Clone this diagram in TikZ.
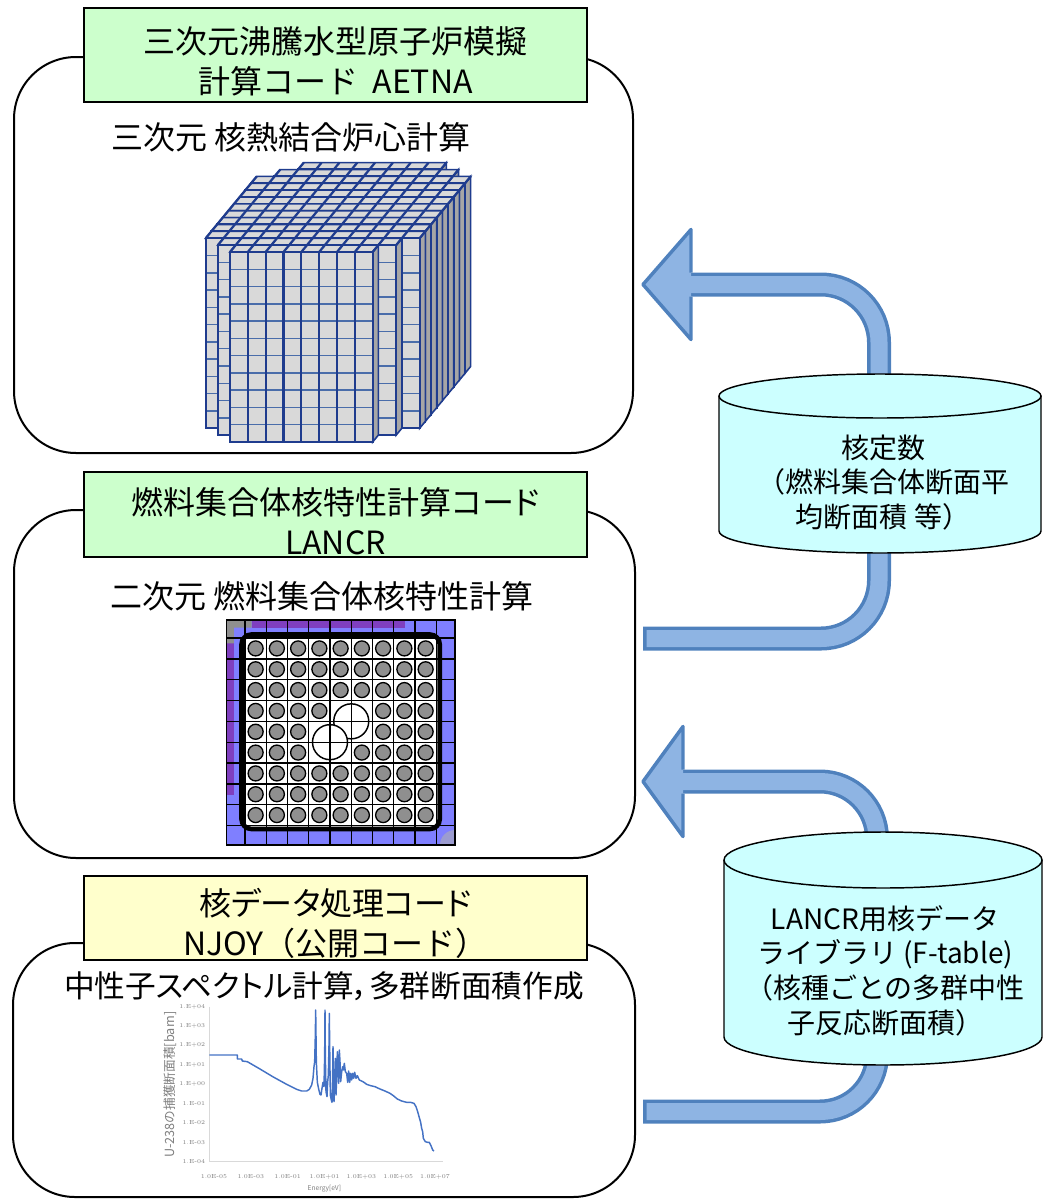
\documentclass[tikz,border=0pt]{standalone}
\usepackage{fontspec}
\newfontfamily\jpfont{Noto Sans CJK JP}
\newfontfamily\jppfont[RawFeature=+palt]{Noto Sans CJK JP}
\definecolor{titlegreen}{HTML}{CCFFCC}
\definecolor{titleyellow}{HTML}{FFFFCC}
\definecolor{dbcyan}{HTML}{CCFFFF}
\definecolor{bandlight}{HTML}{8EB4E3}
\definecolor{bandblue}{HTML}{4F81BD}
\definecolor{coreblue}{HTML}{1F3C8E}
\definecolor{corehline}{HTML}{4A6DAA}
\definecolor{coregray}{HTML}{D9D9D9}
\definecolor{coreshade}{HTML}{A6A6A6}
\definecolor{bundleblue}{HTML}{7F7FFF}
\definecolor{bladepurple}{HTML}{7F3FBF}
\definecolor{rodgray}{HTML}{8F8F8F}
\definecolor{cornerlav}{HTML}{9C9CD0}
\definecolor{xsblue}{HTML}{4472C4}
\definecolor{axisgray}{HTML}{D9D9D9}
\definecolor{labelgray}{HTML}{7F7F7F}

\begin{document}
\begin{tikzpicture}[x=0.75pt, y=-0.75pt, font=\jpfont,
    codebox/.style={line width=1.5pt, rounded corners=46.5pt},
    titlebox/.style={draw, line width=1.1pt},
    titletext/.style={align=center, font=\jpfont\fontsize{24pt}{30pt}\selectfont},
    subtitle/.style={font=\jpfont\fontsize{24pt}{30pt}\selectfont},
    coreside/.style={fill=coreshade, draw=coreblue, line width=1.2pt},
    coretop/.style={fill=coregray, draw=coreblue, line width=1.2pt},
    corefront/.style={fill=coregray, draw=coreblue, line width=1.7pt},
    corehl/.style={draw=corehline, line width=1.1pt},
    corevl/.style={draw=coreblue, line width=1.7pt},
    gridline/.style={line width=1pt},
    fuelrod/.style={fill=rodgray, draw=black, line width=1pt},
    waterrod/.style={fill=white, draw=black, line width=1.1pt},
    channel/.style={line width=3.5pt, rounded corners=7.5pt},
    axisline/.style={draw=axisgray, line width=0.6pt},
    ticklabel/.style={text=labelgray, font=\rmfamily\fontsize{4.4pt}{5pt}\selectfont, inner sep=1pt},
    axistitle/.style={text=labelgray, font=\jpfont\fontsize{5pt}{6pt}\selectfont, inner sep=1pt},
    xsline/.style={draw=xsblue, line width=1.1pt, line join=round},
    bandedge/.style={draw=bandblue, line width=18pt},
    bandfill/.style={draw=bandlight, line width=12.75pt},
    arrowtip/.style={fill=bandlight, draw=bandblue, line width=2.6pt, line join=round},
    dbcyl/.style={fill=dbcyan, draw=black, line width=1.1pt},
    dbtext/.style={align=center, font=\jpfont\fontsize{21pt}{26pt}\selectfont}]
    \useasboundingbox (0,0) rectangle (1043,1199);

    \draw[codebox] (14,57) rectangle (633,453);
    \draw[codebox] (14,510) rectangle (635,858);
    \draw[codebox] (13,943) rectangle (635,1197);

    \draw[titlebox, fill=titlegreen] (84,8) rectangle (587,102) node[midway, titletext, yshift=-4.5pt] (aetnatitle) {三次元沸騰水型原子炉模擬\\計算コード\ \ AETNA};
    \draw[titlebox, fill=titlegreen] (84,472) rectangle (587,557) node[midway, titletext, yshift=-5.25pt] (lancrtitle) {{\jppfont 燃料集合体核特性計算コード}\\LANCR};
    \draw[titlebox, fill=titleyellow] (84,876) rectangle (587,960) node[midway, titletext, yshift=-4pt] (njoytitle) {{\jppfont 核データ処理コード}\\NJOY（公開コード）};

    \node[subtitle] (coresub) at (291,137) {三次元 核熱結合炉心計算};
    \node[subtitle] (bundlesub) at (322,596) {二次元 燃料集合体核特性計算};
    \node[subtitle, font=\jppfont\fontsize{23pt}{30pt}\selectfont] (njoysub) at (324,986) {中性子スペクトル計算，多群断面積作成};

    \foreach \slab/\ca/\cb in {12/0/8,11/-1/9,10/-2/10,9/-2/10,8/-2/10,7/-2/10,6/-2/10,5/-2/10,4/-2/10,3/-2/10,2/-2/10,1/-1/9,0/0/8} {
        \pgfmathsetmacro\xl{230+\slab*5.67+\ca*17.83}
        \pgfmathsetmacro\xr{230+\slab*5.67+\cb*17.83}
        \pgfmathsetmacro\yt{252-\slab*6.87}
        \draw[coreside] (\xr,\yt) -- ++(5.67,-6.87) -- ++(0,190) -- ++(-5.67,6.87) -- cycle;
        \draw[coretop] (\xl,\yt) -- (\xr,\yt) -- ++(5.67,-6.87) -- (\xl+5.67,\yt-6.87) -- cycle;
        \foreach \col in {\ca,...,\cb} \draw[corevl] (230+\slab*5.67+\col*17.83,\yt) -- ++(5.67,-6.87);
        \draw[corefront] (\xl,\yt) rectangle (\xr,\yt+190);
        \foreach \rw in {1,...,10} \draw[corehl] (\xl,\yt+\rw*17.27) -- (\xr,\yt+\rw*17.27);
        \foreach \col in {\ca,...,\cb} \draw[corevl] (230+\slab*5.67+\col*17.83,\yt) -- ++(0,190);
    }

    \fill[bundleblue] (226.5,620) rectangle (455,845);
    \fill[bladepurple] (251.7,620) rectangle (405,627.5);
    \fill[bladepurple] (226.5,643.3) rectangle (233.8,795);
    \fill[rodgray] (226.5,620) rectangle (251.7,627.5) (226.5,620) rectangle (233.8,643.3);
    \fill[cornerlav] (455,845) -- (440,845) arc[start angle=180, end angle=270, radius=15] -- cycle;
    \fill[white, rounded corners=7.5pt] (241.5,634.5) rectangle (439.75,829);
    \foreach \x in {226.5,245,266.25,287.5,308.75,330,351.25,372.5,393.75,415,436.25,455} \draw[gridline] (\x,620) -- (\x,845);
    \foreach \y in {620,638,658.83,679.67,700.5,721.33,742.17,763,783.83,804.67,825.5,845} \draw[gridline] (226.5,\y) -- (455,\y);
    \foreach \ix in {0,...,8} \foreach \jy in {0,...,8} {
        \pgfmathtruncatemacro\wrod{((\jy==3)&&(\ix==4||\ix==5))||((\jy==4)&&(\ix>=3)&&(\ix<=5))||((\jy==5)&&(\ix==3||\ix==4))}
        \ifnum\wrod=0 \draw[fuelrod] (255.625+\ix*21.25,648.42+\jy*20.83) circle[radius=7.5];\fi
    }
    \foreach \x/\y in {351.25/721.33,330/742.17} {
        \draw[waterrod] (\x,\y) circle[radius=17.5];
        \draw[gridline] (\x,\y-17.5) -- (\x,\y+17.5) (\x-17.5,\y) -- (\x+17.5,\y);
    }
    \draw[channel] (241.5,634.5) rectangle (439.75,829);
    \draw[line width=0.8pt] (226.5,620) rectangle (455,845);

    \begin{scope}[shift={(160,995)}, x=0.25pt, y=-0.25pt]
        \draw[axisline] (148,35) -- (148,500) -- (850,500);
        \foreach \e [count=\nt from 0] in {+04,+03,+02,+01,+00,-01,-02,-03,-04}
            \node[ticklabel, anchor=east] (ytick\nt) at (140,35+\nt*58.1) {1.E\e};
        \foreach \e [count=\nt from 0] in {-05,-03,-01,+01,+03,+05,+07}
            \node[ticklabel] (xtick\nt) at (162+\nt*110.5,545) {1.0E\e};
        \node[axistitle] (energylabel) at (493,580) {Energy[eV]};
        \node[axistitle, rotate=90, font=\jpfont\fontsize{9.5pt}{10pt}\selectfont] (xslabel) at (30,268) {U-238の捕獲断面積[barn]};
        \draw[xsline] plot coordinates {(148,180) (232,180) (232,192) (245,192) (247,198) (262,200) (300,222) (340,246) (380,268) (410,283) (425,288) (440,288) (448,283) (455,270) (459,250) (462,215) (464,200) (466,120) (467,45) (468,120) (469,200) (472,262) (476,282) (480,298) (483,300) (486,280) (489,262) (492,275) (494,180) (495,45) (496,180) (498,290) (501,305) (503,260) (505,240) (507,150) (508,55) (509,150) (511,300) (514,315) (516,322) (518,240) (519,155) (520,240) (522,320) (524,250) (526,190) (528,300) (530,250) (532,170) (534,200) (536,265) (538,165) (540,200) (542,260) (545,230) (548,215) (550,225) (553,205) (556,230) (560,235) (563,262) (566,228) (569,262) (572,235) (575,255) (578,235) (581,250) (584,232) (588,250) (592,242) (598,255) (605,258) (612,262) (620,268) (632,272) (645,275) (660,282) (675,288) (690,295) (700,302) (712,312) (725,318) (740,322) (752,322) (762,325) (768,335) (773,350) (778,368) (782,382) (785,400) (788,410) (790,430) (796,440) (803,442) (808,442) (812,450) (815,457) (818,465) (822,468)};
    \end{scope}

    \coordinate (lancrout) at (643,638.5);
    \coordinate (aetnain) at (643,284.5);
    \coordinate (njoyout) at (643,1111.5);
    \coordinate (lancrin) at (643,781.5);
    \foreach \sty/\dx in {bandedge/0,bandfill/3.5}
        \draw[\sty] (lancrout) ++(\dx,0) -- (821,638.5) arc[start angle=90, end angle=0, radius=58] -- (879,342.5) arc[start angle=0, end angle=-90, radius=58] -- (691,284.5);
    \draw[arrowtip] (691,272.5) -- (691,229.5) -- (aetnain) -- (691,339.5) -- (691,296.5);
    \foreach \sty/\dx in {bandedge/0,bandfill/3.5}
        \draw[\sty] (njoyout) ++(\dx,0) -- (820,1111.5) arc[start angle=90, end angle=0, radius=57] -- (877,838.5) arc[start angle=0, end angle=-90, radius=57] -- (683,781.5);
    \draw[arrowtip] (683,769.5) -- (683,726.5) -- (lancrin) -- (683,836.5) -- (683,793.5);

    \draw[dbcyl] (719,396) -- (719,531) arc[start angle=180, end angle=0, x radius=161, y radius=22] -- (1041,396);
    \draw[dbcyl] (880,396) ellipse[x radius=161, y radius=22];
    \node[dbtext] (constdb) at (883,482.5) {核定数\\（燃料集合体断面平\\均断面積 等）};
    \draw[dbcyl] (724,860) -- (724,1037) arc[start angle=180, end angle=0, x radius=159, y radius=28] -- (1042,860);
    \draw[dbcyl] (883,860) ellipse[x radius=159, y radius=28];
    \node[dbtext] (ftabledb) at (885,970.5) {LANCR用核データ\\ライブラリ (F-table)\\（核種ごとの多群中性\\子反応断面積）};
\end{tikzpicture}
\end{document}
